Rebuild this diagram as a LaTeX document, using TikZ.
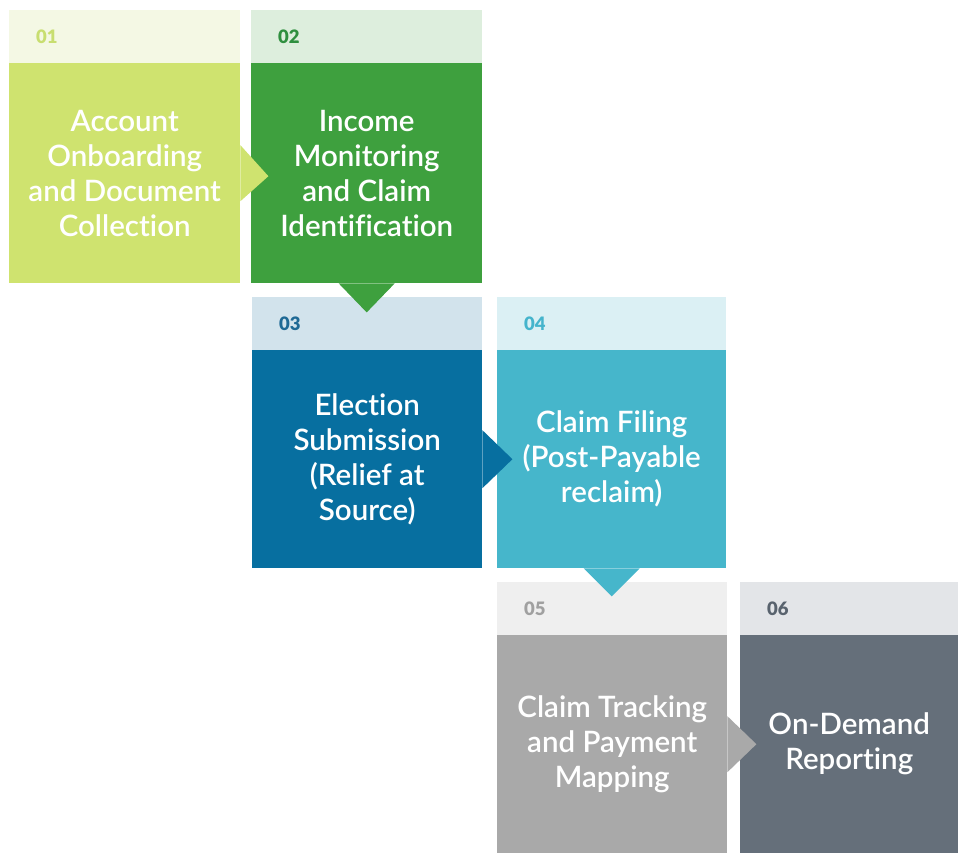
\documentclass[tikz,border=0pt]{standalone}
\usepackage{fontspec}
\setmainfont{Lato}
\newfontfamily\stepfont{Lato Semibold}[Ligatures=NoCommon]
\newfontfamily\numfont{Lato Black}
\usetikzlibrary{positioning}

% step palette: body / header / number
\definecolor{aBody}{HTML}{CFE36F}\definecolor{aHead}{HTML}{F4F8E4}\definecolor{aNum}{HTML}{C8DE70}
\definecolor{bBody}{HTML}{3EA03E}\definecolor{bHead}{HTML}{DDEEDD}\definecolor{bNum}{HTML}{2F8F3F}
\definecolor{cBody}{HTML}{076FA0}\definecolor{cHead}{HTML}{D2E3EC}\definecolor{cNum}{HTML}{1E6995}
\definecolor{dBody}{HTML}{46B6CB}\definecolor{dHead}{HTML}{DBF0F4}\definecolor{dNum}{HTML}{45B4CC}
\definecolor{eBody}{HTML}{A9A9A9}\definecolor{eHead}{HTML}{EFEFEF}\definecolor{eNum}{HTML}{A0A0A0}
\definecolor{fBody}{HTML}{656F7A}\definecolor{fHead}{HTML}{E3E5E8}\definecolor{fNum}{HTML}{59636E}

\tikzset{
  headbox/.style={rectangle, inner sep=0pt, anchor=north west, minimum height=53pt},
  bodybox/.style={rectangle, inner sep=0pt, anchor=north west, minimum height=218pt,
    text=white, align=center, font=\stepfont\fontsize{29.5}{35}\selectfont},
  numlabel/.style={anchor=west, inner sep=0pt, font=\numfont\fontsize{18.5}{20}\selectfont},
}

\begin{document}
\begin{tikzpicture}[x=1pt,y=-1pt]
\useasboundingbox (0,0) rectangle (958,854);

% headers
\node[headbox, fill=aHead, minimum width=231pt] (h1) at (9,10) {};
\node[headbox, fill=bHead, minimum width=231pt] (h2) at (251,10) {};
\node[headbox, fill=cHead, minimum width=230pt] (h3) at (252,297) {};
\node[headbox, fill=dHead, minimum width=229pt] (h4) at (497,297) {};
\node[headbox, fill=eHead, minimum width=230pt] (h5) at (497,582) {};
\node[headbox, fill=fHead, minimum width=218pt] (h6) at (740,582) {};

\node[numlabel, text=aNum] (n1) at ([xshift=27pt]h1.west) {01};
\node[numlabel, text=bNum] (n2) at ([xshift=27pt]h2.west) {02};
\node[numlabel, text=cNum] (n3) at ([xshift=27pt]h3.west) {03};
\node[numlabel, text=dNum] (n4) at ([xshift=27pt]h4.west) {04};
\node[numlabel, text=eNum] (n5) at ([xshift=27pt]h5.west) {05};
\node[numlabel, text=fNum] (n6) at ([xshift=27pt]h6.west) {06};

% bodies
\node[bodybox, fill=aBody, minimum width=231pt, minimum height=220pt] (b1) at (9,63)
  {Account\\Onboarding\\and Document\\Collection};
\node[bodybox, fill=bBody, minimum width=231pt, minimum height=220pt] (b2) at (251,63)
  {Income\\Monitoring\\and Claim\\Identification};
\node[bodybox, fill=cBody, minimum width=230pt] (b3) at (252,350)
  {Election\\Submission\\(Relief at\\Source)};
\node[bodybox, fill=dBody, minimum width=229pt] (b4) at (497,350)
  {Claim Filing\\(Post-Payable\\reclaim)};
\node[bodybox, fill=eBody, minimum width=230pt] (b5) at (497,635)
  {Claim Tracking\\and Payment\\Mapping};
\node[bodybox, fill=fBody, minimum width=218pt] (b6) at (740,635)
  {On-Demand\\Reporting};

% pointers between steps
\fill[aBody] ([yshift=-28pt]b1.east) -- ([xshift=28pt,yshift=-3pt]b1.east) -- ([yshift=28pt]b1.east) -- cycle;
\fill[bBody] ([xshift=-28pt]b2.south) -- ([yshift=-29pt]b2.south) -- ([xshift=28pt]b2.south) -- cycle;
\fill[cBody] ([yshift=-29pt]b3.east) -- ([xshift=30pt]b3.east) -- ([yshift=29pt]b3.east) -- cycle;
\fill[dBody] ([xshift=-28pt]b4.south) -- ([yshift=-28pt]b4.south) -- ([xshift=28pt]b4.south) -- cycle;
\fill[eBody] ([yshift=-28pt]b5.east) -- ([xshift=29pt]b5.east) -- ([yshift=28pt]b5.east) -- cycle;
\end{tikzpicture}
\end{document}
